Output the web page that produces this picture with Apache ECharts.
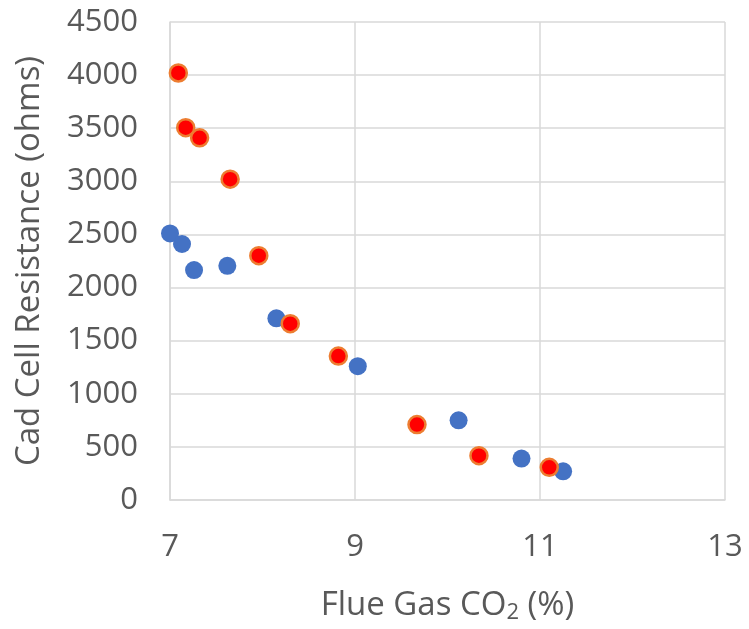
<!DOCTYPE html>
<html>
<head>
<meta charset="utf-8">
<script src="https://cdn.jsdelivr.net/npm/echarts@6/dist/echarts.min.js"></script>
<style>
html,body{margin:0;padding:0;background:#fff;}
#chart{width:749px;height:629px;}
</style>
</head>
<body>
<div id="chart"></div>
<script>
// Series 1 (blue)
const blueX = [7.0, 7.13, 7.26, 7.62, 8.15, 9.03, 10.12, 10.80, 11.25];
const blueY = [2510, 2410, 2165, 2205, 1710, 1260, 750, 390, 270];
// Series 2 (red with orange border)
const redX = [7.09, 7.17, 7.32, 7.65, 7.96, 8.30, 8.82, 9.67, 10.34, 11.10];
const redY = [4020, 3505, 3410, 3020, 2300, 1660, 1355, 710, 417, 308];

const xTitle = 'Flue Gas CO';
const yTitle = 'Cad Cell Resistance (ohms)';

const font = 'Open Sans';
const chart = echarts.init(document.getElementById('chart'));
const zip = (xs, ys) => xs.map((x, i) => [x, ys[i]]);

chart.setOption({
  animation: false,
  grid: { left: 170, right: 24, top: 22, bottom: 127 },
  xAxis: {
    type: 'value', min: 7, max: 13, interval: 2,
    axisLine: { show: true, lineStyle: { color: '#D9D9D9', width: 1.5 } },
    axisTick: { show: false },
    splitLine: { show: true, lineStyle: { color: '#D9D9D9', width: 1.5 } },
    axisLabel: { color: '#595959', fontFamily: font, fontSize: 31, margin: 32,
                 formatter: v => String(v) },
    name: '{a|' + xTitle + '}{s|2}{a| (%)}',
    nameLocation: 'middle', nameGap: 87,
    nameTextStyle: {
      rich: {
        a: { color: '#595959', fontFamily: font, fontSize: 33 },
        s: { color: '#595959', fontFamily: font, fontSize: 22, padding: [15, 0, 0, 0] }
      }
    }
  },
  yAxis: {
    type: 'value', min: 0, max: 4500, interval: 500,
    axisLine: { show: true, lineStyle: { color: '#D9D9D9', width: 1.5 } },
    axisTick: { show: false },
    splitLine: { show: true, lineStyle: { color: '#D9D9D9', width: 1.5 } },
    axisLabel: { color: '#595959', fontFamily: font, fontSize: 31, margin: 32,
                 formatter: v => String(v) },
    name: yTitle, nameLocation: 'middle', nameGap: 124,
    nameTextStyle: { color: '#595959', fontFamily: font, fontSize: 33 }
  },
  series: [
    {
      type: 'scatter', data: zip(blueX, blueY), symbolSize: 18,
      itemStyle: { color: '#4472C4', opacity: 1 }
    },
    {
      type: 'scatter', data: zip(redX, redY), symbolSize: 17,
      itemStyle: { color: '#FF0000', borderColor: '#ED7D31', borderWidth: 2.5, opacity: 1 }
    }
  ]
});
</script>
</body>
</html>
